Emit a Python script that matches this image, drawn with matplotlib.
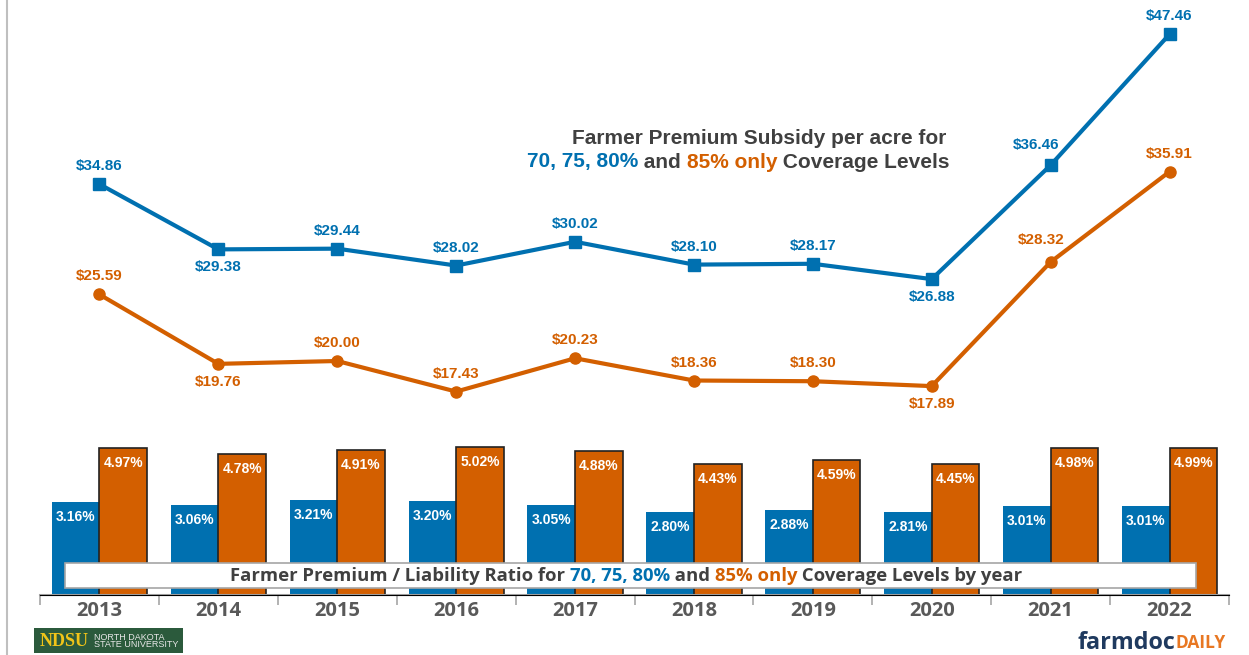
import numpy as np
from matplotlib import pyplot as plt
from matplotlib.patches import Rectangle

plt.rcParams['font.family'] = ['Liberation Sans', 'DejaVu Sans']

years = ['2013', '2014', '2015', '2016', '2017', '2018', '2019', '2020', '2021', '2022']
subsidy_70_80 = [34.86, 29.38, 29.44, 28.02, 30.02, 28.10, 28.17, 26.88, 36.46, 47.46]
subsidy_85 = [25.59, 19.76, 20.00, 17.43, 20.23, 18.36, 18.30, 17.89, 28.32, 35.91]
ratio_70_80 = [3.16, 3.06, 3.21, 3.20, 3.05, 2.80, 2.88, 2.81, 3.01, 3.01]
ratio_85 = [4.97, 4.78, 4.91, 5.02, 4.88, 4.43, 4.59, 4.45, 4.98, 4.99]

# label placement: above (+1) or below (-1) the point, and sideways nudge in pixels
pos_70_80 = [1, -1, 1, 1, 1, 1, 1, -1, 1, 1]
pos_85 = [1, -1, 1, 1, 1, 1, 1, -1, 1, 1]
dx_70_80 = [0, 0, 0, 0, 0, 0, 0, 0, -15, 0]
dx_85 = [0, 0, 0, 0, 0, 0, 0, 0, -9, 0]

BLUE = '#0070b0'
ORANGE = '#d35f00'
GRAY = '#595959'
DARK = '#404040'

W, H = 1249, 655
fig = plt.figure(figsize=(W / 100, H / 100), dpi=100)
ax = fig.add_axes([40 / W, 1 - 595 / H, 1189 / W, 595 / H])
ax2 = ax.twinx()

x = np.arange(len(years))
bw = 0.4
ax.bar(x - bw / 2, ratio_70_80, bw, color=BLUE, zorder=2)
ax.bar(x + bw / 2, ratio_85, bw, color=ORANGE, edgecolor='#222222', linewidth=1.2, zorder=2)
for i in x:
    ax.annotate(f'{ratio_70_80[i]:.2f}%', (i - bw / 2, ratio_70_80[i]), xytext=(0, -15),
                textcoords='offset pixels', ha='center', va='center', color='white',
                fontsize=10, fontweight='bold', zorder=3)
    ax.annotate(f'{ratio_85[i]:.2f}%', (i + bw / 2, ratio_85[i]), xytext=(0, -15),
                textcoords='offset pixels', ha='center', va='center', color='white',
                fontsize=10, fontweight='bold', zorder=3)

ax.set_xlim(-0.5, len(years) - 0.5)
ax.set_ylim(0, 595 / 29.5)
ax2.set_ylim(4 / 11.9, 599 / 11.9)

ax2.plot(x, subsidy_70_80, color=BLUE, lw=3, marker='s', ms=8, zorder=4)
ax2.plot(x, subsidy_85, color=ORANGE, lw=3, marker='o', ms=8, zorder=4)
for i in x:
    ax2.annotate(f'${subsidy_70_80[i]:.2f}', (i, subsidy_70_80[i]),
                 xytext=(dx_70_80[i], 18 * pos_70_80[i] + (2 if dx_70_80[i] else 0)),
                 textcoords='offset pixels', ha='center', va='center', color=BLUE,
                 fontsize=11, fontweight='bold', annotation_clip=False)
    ax2.annotate(f'${subsidy_85[i]:.2f}', (i, subsidy_85[i]),
                 xytext=(dx_85[i], 18 * pos_85[i] + (4 if dx_85[i] else 0)),
                 textcoords='offset pixels', ha='center', va='center', color=ORANGE,
                 fontsize=11, fontweight='bold', annotation_clip=False)

for a in (ax, ax2):
    for s in ['top', 'right', 'left']:
        a.spines[s].set_visible(False)
    a.set_yticks([])
ax.spines['bottom'].set_color('#a6a6a6')
ax.spines['bottom'].set_linewidth(1.5)
ax.set_xticks(x)
ax.set_xticklabels(years, family='Open Sans', fontweight='bold', fontsize=14.5, color=GRAY)
ax.tick_params(axis='x', which='major', length=0, pad=4)
ax.set_xticks(np.arange(len(years) + 1) - 0.5, minor=True)
ax.tick_params(axis='x', which='minor', length=7, color='#a6a6a6', width=1.2)

# overlay for titles, banner and logos
ov = fig.add_axes([0, 0, 1, 1])
ov.set_xlim(0, W)
ov.set_ylim(H, 0)
ov.axis('off')


def chain(first, parts, **kw):
    t = ov.text(first[0], first[1], parts[0][0], color=parts[0][1], ha='left', va='center', **kw)
    for s, c in parts[1:]:
        t = ov.annotate(s, xy=(1, 0), xycoords=t, va='bottom', ha='left', color=c, **kw)
    return t


# title of lines
ov.text(946, 138, 'Farmer Premium Subsidy per acre for', ha='right', va='center',
        fontsize=15, fontweight='bold', color=DARK)
chain((527, 162), [('70, 75, 80%', BLUE), (' and ', DARK), ('85% only', ORANGE),
                   (' Coverage Levels', DARK)], fontsize=15, fontweight='bold')

# bottom banner
ov.add_patch(Rectangle((65, 563), 1131, 25, facecolor='white', edgecolor='#a6a6a6', lw=1.2, zorder=5))
chain((230, 576), [('Farmer Premium / Liability Ratio for ', DARK), ('70, 75, 80%', BLUE), (' and ', DARK),
                   ('85% only', ORANGE), (' Coverage Levels by year', DARK)],
      family='Open Sans', fontsize=13.3, fontweight='bold', zorder=6)

# left border line
ov.plot([7, 7], [0, H], color='#bfbfbf', lw=1.5)

# logos
ov.add_patch(Rectangle((34, 628), 149, 25, facecolor='#2b5a3c', edgecolor='none'))
ov.text(40, 641, 'NDSU', family='Liberation Serif', fontsize=13, fontweight='bold',
        color='#f0c419', va='center', ha='left')
ov.text(94, 641, 'NORTH DAKOTA\nSTATE UNIVERSITY', fontsize=6.5, color='#e8e8e8',
        va='center', ha='left', linespacing=0.85)
t = ov.text(1078, 643, 'farmdoc', family='Open Sans', fontsize=16.8, fontweight='bold',
            color='#1f3a5f', va='center', ha='left')
ov.annotate('DAILY', xy=(1, 0.12), xycoords=t, va='bottom', ha='left', family='Open Sans',
            fontsize=12.5, fontweight='bold', color='#e87722')

fig.savefig('out.png', dpi=100)
